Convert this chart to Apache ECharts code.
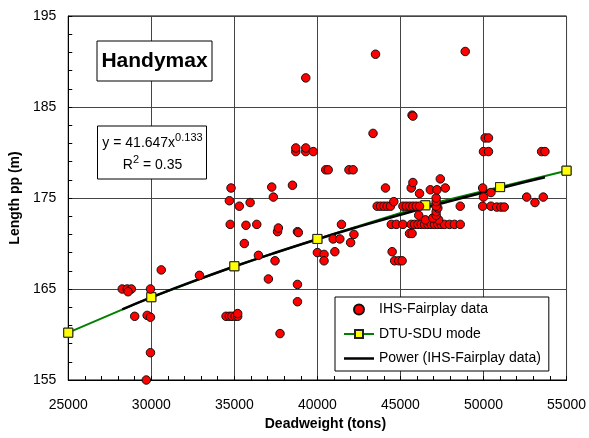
<!DOCTYPE html>
<html>
<head>
<meta charset="utf-8">
<script src="https://cdn.jsdelivr.net/npm/echarts@6/dist/echarts.min.js"></script>
<style>
  html, body { margin: 0; padding: 0; background: #fff; }
  #chart { width: 589px; height: 438px; }
</style>
</head>
<body>
<div id="chart"></div>
<script>
// Handymax vessels: length between perpendiculars versus deadweight
const ihsPoints = [
  [29700,155.0],[29950,158.0],[37750,160.1],
  [29000,162.0],[29750,162.1],[29950,161.9],
  [34500,162.0],[34700,162.0],[34850,162.0],[35050,162.0],[35200,162.0],[35200,162.3],
  [38800,163.6],
  [28250,165.0],[28550,165.0],[28800,165.0],[28600,164.7],[29950,165.0],
  [38800,165.5],[37050,166.1],[32900,166.5],[30600,167.1],
  [36450,168.7],[37450,168.1],[40000,169.0],[40400,168.8],[40400,168.1],[41050,169.1],
  [44500,169.1],[44650,168.1],[44900,168.1],[45100,168.1],
  [35600,170.0],[40950,170.5],[41350,170.5],[42000,170.1],
  [42200,171.0],[45550,171.1],[45700,171.1],
  [37600,171.3],[38800,171.3],[38850,171.2],[37650,171.7],
  [34750,172.1],[35700,172.0],[36350,172.1],[41450,172.1],
  [44450,172.1],[44750,172.1],[45150,172.1],[45650,172.1],[45850,172.1],[46050,172.1],
  [46250,172.1],[46450,172.1],[46650,172.1],[46850,172.1],[47050,172.1],[47250,172.1],
  [47450,172.1],[47650,172.1],[47950,172.1],[48250,172.1],[48600,172.1],
  [46500,172.6],[47300,172.6],[46950,172.8],[46100,173.1],[47150,173.1],[47150,173.5],[47250,173.9],
  [43600,174.1],[43800,174.1],[44000,174.1],[44200,174.1],[44400,174.1],[44600,174.6],
  [45150,174.1],[45350,174.1],[45550,174.1],[45750,174.1],[45950,174.1],[46150,174.1],
  [47150,174.1],[47150,174.6],[47150,175.0],
  [48600,174.1],[49950,174.1],[50450,174.1],[50800,174.0],[51050,174.0],[51250,174.0],
  [34700,174.7],[35300,174.1],[35950,174.5],[37350,175.1],
  [50000,175.1],[52600,175.1],[53100,174.5],[53600,175.1],
  [46150,175.5],[46800,175.9],[47200,175.9],[50450,175.6],
  [34800,176.1],[37250,176.2],[38500,176.4],[44100,176.1],[45650,176.1],[45750,176.7],
  [47700,176.1],[49950,176.1],[47400,177.1],
  [40500,178.1],[40650,178.1],[41900,178.1],[42150,178.1],
  [38700,180.1],[38700,180.5],[39300,180.1],[39300,180.5],[39750,180.1],
  [50000,180.1],[50300,180.1],[53500,180.1],[53700,180.1],
  [50100,181.6],[50300,181.6],
  [43350,182.1],[45700,184.1],[45750,184.0],
  [39300,188.2],[43500,190.8],[48900,191.1]
];

// DTU-SDU model curve
const dtuDeadweight = [25000, 30000, 35000, 40000, 46500, 51000, 55000];
const dtuLength = [160.2, 164.1, 167.5, 170.5, 174.2, 176.2, 178.0];

// Power trendline of the IHS-Fairplay data: y = 41.647 x^0.133
const trendCoef = 41.647;
const trendExp = 0.133;
const trendDeadweight = [28250, 30000, 32500, 35000, 37500, 40000, 42500, 45000, 47500, 50000, 52500, 53700];

const xTicks = { min: 25000, max: 55000, step: 5000 };
const yTicks = { min: 155, max: 195, step: 10 };

const dtuData = dtuDeadweight.map((d, i) => [d, dtuLength[i]]);
const trendData = trendDeadweight.map(d => [d, trendCoef * Math.pow(d, trendExp)]);

const FONT = 'Arial, "Liberation Sans", sans-serif';

const chart = echarts.init(document.getElementById('chart'), null, { renderer: 'canvas' });

chart.setOption({
  animation: false,
  backgroundColor: '#fff',
  textStyle: { fontFamily: FONT },
  grid: {
    left: 66, right: 21, top: 16, bottom: 58,
    show: true, borderColor: '#000', borderWidth: 1, backgroundColor: '#fff'
  },
  xAxis: {
    type: 'value',
    min: xTicks.min, max: xTicks.max, interval: xTicks.step,
    name: 'Deadweight (tons)',
    nameLocation: 'middle',
    nameGap: 37,
    nameTextStyle: { fontFamily: FONT, fontSize: 14, fontWeight: 'bold', color: '#000', padding: [0, 0, 0, 16] },
    axisLine: { lineStyle: { color: '#000', width: 1 } },
    axisTick: { inside: true, length: 4, lineStyle: { color: '#000' } },
    minorTick: { show: true, splitNumber: 5, length: 4, lineStyle: { color: '#000' } },
    axisLabel: { margin: 18, fontFamily: FONT, fontSize: 14, color: '#000', formatter: v => String(v) },
    splitLine: { show: true, lineStyle: { color: '#444', width: 1 } }
  },
  yAxis: {
    type: 'value',
    min: yTicks.min, max: yTicks.max, interval: yTicks.step,
    name: 'Length pp (m)',
    nameLocation: 'middle',
    nameGap: 42,
    nameRotate: 90,
    nameTextStyle: { fontFamily: FONT, fontSize: 14, fontWeight: 'bold', color: '#000' },
    axisLine: { lineStyle: { color: '#000', width: 1 } },
    axisTick: { inside: true, length: 4, lineStyle: { color: '#000' } },
    minorTick: { show: true, splitNumber: 5, length: 4, lineStyle: { color: '#000' } },
    axisLabel: { margin: 12, fontFamily: FONT, fontSize: 14, color: '#000', formatter: v => String(v) },
    splitLine: { show: true, lineStyle: { color: '#444', width: 1 } }
  },
  legend: {
    orient: 'vertical',
    left: 335, top: 297,
    padding: [5.5, 8, 5.5, 8],
    itemWidth: 30, itemHeight: 10, itemGap: 10.5,
    backgroundColor: '#fff',
    borderColor: '#000', borderWidth: 1, borderRadius: 0,
    textStyle: { fontFamily: FONT, fontSize: 14, color: '#000', lineHeight: 14 },
    data: [
      { name: 'IHS-Fairplay data', icon: 'circle' },
      { name: 'DTU-SDU mode' },
      { name: 'Power (IHS-Fairplay data)', icon: 'path://M0,0L30,0L30,2.5L0,2.5Z' }
    ]
  },
  graphic: [
    {
      type: 'group',
      children: [
        {
          type: 'rect', shape: { x: 97, y: 41, width: 115, height: 40 },
          style: { fill: '#fff', stroke: '#000', lineWidth: 1 }, z: 100
        },
        {
          type: 'text', x: 154.5, y: 61.5, z: 101,
          style: {
            text: 'Handymax', fontFamily: FONT, fontSize: 21, fontWeight: 'bold',
            fill: '#000', align: 'center', verticalAlign: 'middle'
          }
        },
        {
          type: 'rect', shape: { x: 97.5, y: 126, width: 109, height: 53 },
          style: { fill: '#fff', stroke: '#000', lineWidth: 1 }, z: 100
        },
        {
          type: 'text', x: 152.5, y: 154, z: 101,
          style: {
            text: '{m|y = 41.647x}{s|0.133}\n{m|R}{s|2}{m| = 0.35}',
            align: 'center', verticalAlign: 'middle',
            fill: '#000',
            rich: {
              m: { fontFamily: FONT, fontSize: 14, lineHeight: 22, fill: '#000' },
              s: { fontFamily: FONT, fontSize: 11, lineHeight: 11, verticalAlign: 'top', fill: '#000' }
            }
          }
        }
      ]
    }
  ],
  series: [
    {
      name: 'IHS-Fairplay data',
      type: 'scatter',
      data: ihsPoints,
      symbol: 'circle',
      symbolSize: 8.5,
      itemStyle: { color: '#ff0000', borderColor: '#111', borderWidth: 1, opacity: 1 },
      z: 6
    },
    {
      name: 'DTU-SDU mode',
      type: 'line',
      data: dtuData,
      symbol: 'rect',
      symbolSize: 9,
      showSymbol: true,
      color: '#ffff00',
      lineStyle: { color: '#008000', width: 2 },
      itemStyle: { color: '#ffff00', borderColor: '#222', borderWidth: 1, opacity: 1 },
      z: 2
    },
    {
      name: 'Power (IHS-Fairplay data)',
      type: 'line',
      data: trendData,
      symbol: 'none',
      smooth: true,
      color: '#000',
      lineStyle: { color: '#000', width: 2.5 },
      z: 3
    },
    {
      // squares redrawn above the trendline
      name: 'DTU-SDU squares',
      type: 'scatter',
      data: dtuData,
      symbol: 'rect',
      symbolSize: 9,
      itemStyle: { color: '#ffff00', borderColor: '#222', borderWidth: 1, opacity: 1 },
      z: 4
    }
  ]
});
</script>
</body>
</html>
